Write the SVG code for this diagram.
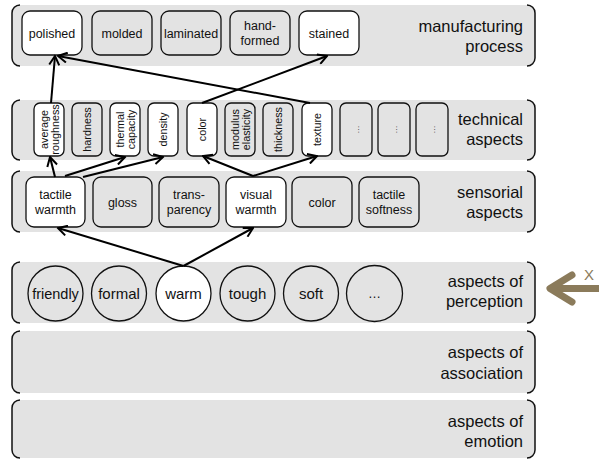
<svg xmlns="http://www.w3.org/2000/svg" width="599" height="459" viewBox="0 0 599 459">
<style>
text{font-family:"Liberation Sans",Arial,sans-serif;fill:#111}
.band{fill:#e3e3e3;stroke:none}
.br{fill:none;stroke:#111;stroke-width:1.5}
.lab{font-size:16.5px;text-anchor:end}
.box{fill:#e3e3e3;stroke:#111;stroke-width:1.3}
.w{fill:#fff}
.t{font-size:12.5px;text-anchor:middle}
.v{font-size:10.8px;text-anchor:middle}
.c{font-size:15px;text-anchor:middle}
.con{stroke:#000;stroke-width:2;fill:none;marker-end:url(#ah)}
</style>
<defs>
<marker id="ah" markerUnits="userSpaceOnUse" viewBox="0 0 12 12" markerWidth="12" markerHeight="12" refX="10.5" refY="6" orient="auto">
<path d="M1.5,1 L10.5,6 L1.5,11" fill="none" stroke="#000" stroke-width="2"/>
</marker>
</defs>

<g id="band-manufacturing">
<rect class="band" x="12" y="5" width="523" height="61" rx="8"/>
<path class="br" d="M20,5 A8,8 0 0 0 12,13 V58 A8,8 0 0 0 20,66"/>
<path class="br" d="M527,5 A8,8 0 0 1 535,13 V58 A8,8 0 0 1 527,66"/>
<text class="lab" x="523" y="32">manufacturing</text>
<text class="lab" x="523" y="52">process</text>
</g>
<g id="band-technical">
<rect class="band" x="12" y="100" width="523" height="60" rx="8"/>
<path class="br" d="M20,100 A8,8 0 0 0 12,108 V152 A8,8 0 0 0 20,160"/>
<path class="br" d="M527,100 A8,8 0 0 1 535,108 V152 A8,8 0 0 1 527,160"/>
<text class="lab" x="523" y="125">technical</text>
<text class="lab" x="523" y="145">aspects</text>
</g>
<g id="band-sensorial">
<rect class="band" x="12" y="171" width="523" height="61" rx="8"/>
<path class="br" d="M20,171 A8,8 0 0 0 12,179 V224 A8,8 0 0 0 20,232"/>
<path class="br" d="M527,171 A8,8 0 0 1 535,179 V224 A8,8 0 0 1 527,232"/>
<text class="lab" x="523" y="198">sensorial</text>
<text class="lab" x="523" y="218">aspects</text>
</g>
<g id="band-perception">
<rect class="band" x="12" y="262" width="523" height="61" rx="8"/>
<path class="br" d="M20,262 A8,8 0 0 0 12,270 V315 A8,8 0 0 0 20,323"/>
<path class="br" d="M527,262 A8,8 0 0 1 535,270 V315 A8,8 0 0 1 527,323"/>
<text class="lab" x="523" y="287">aspects of</text>
<text class="lab" x="523" y="307">perception</text>
</g>
<g id="band-association">
<rect class="band" x="12" y="331" width="523" height="62" rx="8"/>
<path class="br" d="M20,331 A8,8 0 0 0 12,339 V385 A8,8 0 0 0 20,393"/>
<path class="br" d="M527,331 A8,8 0 0 1 535,339 V385 A8,8 0 0 1 527,393"/>
<text class="lab" x="523" y="358">aspects of</text>
<text class="lab" x="523" y="379">association</text>
</g>
<g id="band-emotion">
<rect class="band" x="12" y="400" width="523" height="58" rx="8"/>
<path class="br" d="M20,400 A8,8 0 0 0 12,408 V450 A8,8 0 0 0 20,458"/>
<path class="br" d="M527,400 A8,8 0 0 1 535,408 V450 A8,8 0 0 1 527,458"/>
<text class="lab" x="523" y="427">aspects of</text>
<text class="lab" x="523" y="447">emotion</text>
</g>

<g id="m-polished"><rect class="box w" x="22" y="11" width="60" height="44" rx="8"/><text class="t" x="52" y="37.5">polished</text></g>
<g id="m-molded"><rect class="box" x="92" y="11" width="60" height="44" rx="8"/><text class="t" x="122" y="37.5">molded</text></g>
<g id="m-laminated"><rect class="box" x="161" y="11" width="60" height="44" rx="8"/><text class="t" x="191" y="37.5">laminated</text></g>
<g id="m-handformed"><rect class="box" x="230" y="11" width="60" height="44" rx="8"/><text class="t" x="260" y="30">hand-</text><text class="t" x="260" y="45">formed</text></g>
<g id="m-stained"><rect class="box w" x="299" y="11" width="60" height="44" rx="8"/><text class="t" x="329" y="37.5">stained</text></g>

<g id="t-roughness"><rect class="box w" x="34" y="103" width="30" height="53" rx="6"/><text class="v" transform="translate(49,129.5) rotate(-90)"><tspan x="0" y="-1.5">average</tspan><tspan x="0" y="10">roughness</tspan></text></g>
<g id="t-hardness"><rect class="box" x="72" y="103" width="30" height="53" rx="6"/><text class="v" transform="translate(87,129.5) rotate(-90)" y="4">hardness</text></g>
<g id="t-thermal"><rect class="box w" x="110" y="103" width="30" height="53" rx="6"/><text class="v" transform="translate(125,129.5) rotate(-90)"><tspan x="0" y="-1.5">thermal</tspan><tspan x="0" y="10">capacity</tspan></text></g>
<g id="t-density"><rect class="box w" x="148" y="103" width="30" height="53" rx="6"/><text class="v" transform="translate(163,129.5) rotate(-90)" y="4">density</text></g>
<g id="t-color"><rect class="box w" x="187" y="103" width="30" height="53" rx="6"/><text class="v" transform="translate(202,129.5) rotate(-90)" y="4">color</text></g>
<g id="t-modulus"><rect class="box" x="225" y="103" width="30" height="53" rx="6"/><text class="v" transform="translate(240,129.5) rotate(-90)"><tspan x="0" y="-1.5">modulus</tspan><tspan x="0" y="10">elasticity</tspan></text></g>
<g id="t-thickness"><rect class="box" x="263" y="103" width="30" height="53" rx="6"/><text class="v" transform="translate(278,129.5) rotate(-90)" y="4">thickness</text></g>
<g id="t-texture"><rect class="box w" x="302" y="103" width="30" height="53" rx="6"/><text class="v" transform="translate(317,129.5) rotate(-90)" y="4">texture</text></g>
<g id="t-more1"><rect class="box" x="340" y="103" width="32" height="53" rx="6"/><text class="v" style="font-size:8px" transform="translate(356,129.5) rotate(-90)" y="3">…</text></g>
<g id="t-more2"><rect class="box" x="378" y="103" width="32" height="53" rx="6"/><text class="v" style="font-size:8px" transform="translate(394,129.5) rotate(-90)" y="3">…</text></g>
<g id="t-more3"><rect class="box" x="416" y="103" width="32" height="53" rx="6"/><text class="v" style="font-size:8px" transform="translate(432,129.5) rotate(-90)" y="3">…</text></g>

<g id="s-tactilewarmth"><rect class="box w" x="26" y="177" width="59" height="50" rx="8"/><text class="t" x="55.5" y="199">tactile</text><text class="t" x="55.5" y="214">warmth</text></g>
<g id="s-gloss"><rect class="box" x="93" y="177" width="59" height="50" rx="8"/><text class="t" x="122.5" y="206.5">gloss</text></g>
<g id="s-transparency"><rect class="box" x="159" y="177" width="60" height="50" rx="8"/><text class="t" x="189" y="199">trans-</text><text class="t" x="189" y="214">parency</text></g>
<g id="s-visualwarmth"><rect class="box w" x="226" y="177" width="60" height="50" rx="8"/><text class="t" x="256" y="199">visual</text><text class="t" x="256" y="214">warmth</text></g>
<g id="s-color"><rect class="box" x="292" y="177" width="60" height="50" rx="8"/><text class="t" x="322" y="206.5">color</text></g>
<g id="s-tactilesoftness"><rect class="box" x="359" y="177" width="60" height="50" rx="8"/><text class="t" x="389" y="199">tactile</text><text class="t" x="389" y="214">softness</text></g>

<g id="p-friendly"><circle class="box" cx="55.5" cy="293.5" r="27.5"/><text class="c" style="font-size:14.5px" x="55.5" y="298.5">friendly</text></g>
<g id="p-formal"><circle class="box" cx="119" cy="293.5" r="27.5"/><text class="c" x="119" y="298.5">formal</text></g>
<g id="p-warm"><circle class="box w" cx="183.5" cy="293.5" r="27.5"/><text class="c" x="183.5" y="298.5">warm</text></g>
<g id="p-tough"><circle class="box" cx="247.5" cy="293.5" r="27.5"/><text class="c" x="247.5" y="298.5">tough</text></g>
<g id="p-soft"><circle class="box" cx="311" cy="293.5" r="27.5"/><text class="c" x="311" y="298.5">soft</text></g>
<g id="p-more"><circle class="box" cx="374.5" cy="293.5" r="28"/><text class="c" style="font-size:13px" x="374.5" y="298">…</text></g>

<g id="connectors">
<line class="con" x1="183.5" y1="266" x2="58" y2="228"/>
<line class="con" x1="183.5" y1="266" x2="253" y2="228"/>
<line class="con" x1="55" y1="177" x2="50" y2="157"/>
<line class="con" x1="65" y1="176" x2="125" y2="157"/>
<line class="con" x1="83" y1="177" x2="163" y2="157"/>
<line class="con" x1="253" y1="176" x2="203" y2="156"/>
<line class="con" x1="253" y1="176" x2="317" y2="156"/>
<line class="con" x1="51" y1="103" x2="55" y2="56"/>
<line class="con" x1="310" y1="103" x2="58" y2="56"/>
<line class="con" x1="202" y1="103" x2="327" y2="56"/>
</g>

<g id="x-arrow">
<line x1="551" y1="288.5" x2="599" y2="288.5" stroke="#8b7b5b" stroke-width="7"/>
<path d="M572,275 L550,288.5 L572,302" fill="none" stroke="#8b7b5b" stroke-width="7" stroke-linecap="round" stroke-linejoin="round"/>
<text x="589" y="280" style="font-size:15px;fill:#8b7b5b;text-anchor:middle">X</text>
</g>
</svg>
